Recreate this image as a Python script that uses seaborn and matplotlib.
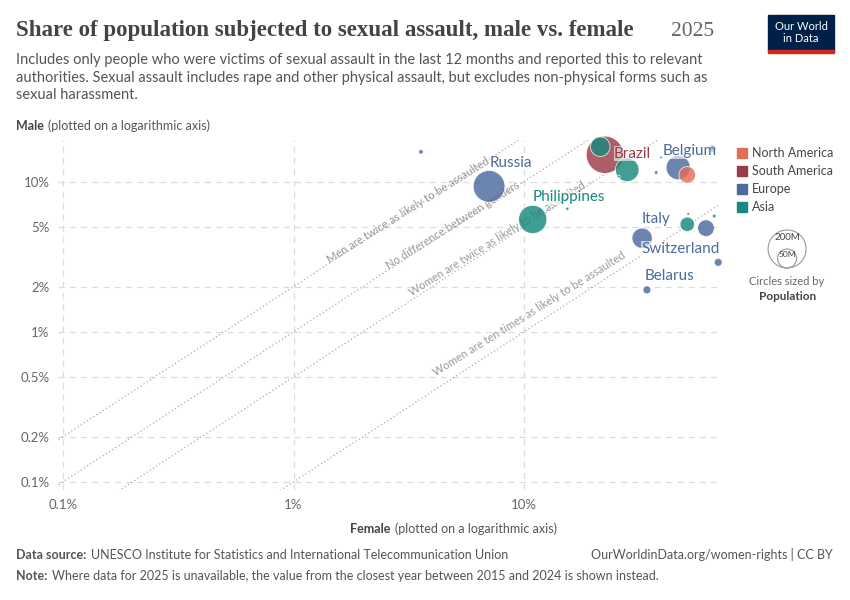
import numpy as np
import pandas as pd
import seaborn as sns
import matplotlib.pyplot as plt

# data (percent of population)
names = ["Small EU 1", "Russia", "Philippines", "Small AS 1", "Brazil", "Asia 1", "Asia 2",
         "Small EU 2", "Small AS 2", "Small EU 3", "Belgium", "North America 1", "Small EU 4",
         "Small SA", "Asia 3", "Small AS 3", "Europe 5", "Italy", "Switzerland", "Belarus"]
region = ["Europe", "Europe", "Asia", "Asia", "South America", "Asia", "Asia",
          "Europe", "Asia", "Europe", "Europe", "North America", "Europe",
          "South America", "Asia", "Asia", "Europe", "Europe", "Europe", "Europe"]
female = [3.57, 7.05, 10.9, 15.4, 22.4, 21.4, 28.0, 25.8, 39.3, 37.4, 46.6, 51.0, 65.6,
          51.5, 51.0, 66.8, 61.5, 32.5, 69.5, 34.1]
male = [15.8, 9.3, 5.6, 6.6, 15.1, 17.1, 12.0, 10.8, 14.5, 11.5, 12.4, 11.1, 16.6,
        6.1, 5.2, 5.9, 4.9, 4.2, 2.9, 1.9]
population = [3, 145, 115, 1.5, 250, 55, 80, 1, 1, 2, 84, 40, 8, 1, 30, 2, 40, 59, 9, 9]
labelled = {"Russia": (16, 14), "Philippines": (26, 13), "Brazil": (20, -2), "Belgium": (8, 9),
            "Italy": (10, 11), "Switzerland": (-27, 7), "Belarus": (16, 7)}

df = pd.DataFrame({"name": names, "region": region, "female": female,
                   "male": male, "population": population})
df = df.sort_values("population", ascending=False)

palette = {"North America": "#E56E5A", "South America": "#9A3B48",
           "Europe": "#4C6A9C", "Asia": "#18897E"}
region_order = ["North America", "South America", "Europe", "Asia"]

sns.set_theme(style="white")
plt.rcParams['font.family'] = ['Lato', 'DejaVu Sans']

fig = plt.figure(figsize=(8.5, 6), dpi=100)
ax = fig.add_axes([0.068, 0.183, 0.779, 0.584])

ax.set_xscale("log")
ax.set_yscale("log")
ax.set_xlim(0.095, 70.7)
ax.set_ylim(0.088, 19.0)

# reference lines
xs = np.array([0.05, 200])
ref = [(2, "Men are twice as likely to be assaulted", 0.655, 0.93),
       (1, "No difference between genders", 0.70, 0.86),
       (0.5, "Women are twice as likely to be assaulted", 0.80, 0.86),
       (0.1, "Women are ten times as likely to be assaulted", 0.86, 0.66)]
for k, txt, tx, ty in ref:
    ax.plot(xs, xs * k, ls=(0, (1, 2)), color="#aaaaaa", lw=0.9, zorder=1)
    ax.text(tx, ty, txt, transform=ax.transAxes, rotation=32, fontsize=8,
            color="#999999", ha="right", va="bottom", rotation_mode="anchor", zorder=2)

sns.scatterplot(data=df, x="female", y="male", hue="region", palette=palette,
                size="population", sizes=(0, 720), size_norm=(0, 200),
                alpha=0.82, edgecolor="white", linewidth=0.6, legend=False,
                ax=ax, zorder=3, clip_on=False)

for _, row in df.iterrows():
    if row["name"] in labelled:
        dx, dy = labelled[row["name"]]
        ax.annotate(row["name"], (row["female"], row["male"]), xytext=(dx, dy),
                    textcoords="offset points", fontsize=11, ha="center",
                    color=palette[row["region"]], zorder=4,
                    bbox=dict(fc="white", ec="none", alpha=0.6, pad=0.3))

ax.set_xticks([0.1, 1, 10])
ax.set_xticklabels(["0.1%", "1%", "10%"])
ax.set_yticks([0.1, 0.2, 0.5, 1, 2, 5, 10])
ax.set_yticklabels(["0.1%", "0.2%", "0.5%", "1%", "2%", "5%", "10%"])
ax.minorticks_off()
ax.tick_params(labelsize=9.5, colors="#666666", length=0, pad=6)
ax.grid(True, ls=(0, (5, 4)), color="#dddddd", lw=0.9)
for s in ax.spines.values():
    s.set_visible(False)
ax.set_xlabel("")
ax.set_ylabel("")

fig.text(0.412, 0.112, "Female", fontsize=9, color="#444444", fontweight="bold")
fig.text(0.465, 0.112, "(plotted on a logarithmic axis)", fontsize=9, color="#555555")
fig.text(0.019, 0.783, "Male", fontsize=9, color="#444444", fontweight="bold")
fig.text(0.057, 0.783, "(plotted on a logarithmic axis)", fontsize=9, color="#555555")

# legend
for i, r in enumerate(region_order):
    y = 0.745 - i * 0.03
    fig.patches.append(plt.Rectangle((0.867, y - 0.009), 0.012, 0.018, transform=fig.transFigure,
                                     color=palette[r], figure=fig))
    fig.text(0.885, y, r, fontsize=9, color="#444444", va="center")
# size legend
cx = 0.926
for r_px in [19, 9.5]:
    circ = plt.Circle((cx * 850, 332 + r_px), r_px, transform=None,
                      fill=False, ec="#999999", lw=0.8)
    fig.patches.append(circ)
fig.text(cx, 0.6, "200M", fontsize=7, color="#444444", ha="center")
fig.text(cx, 0.572, "50M", fontsize=6, color="#444444", ha="center")
fig.text(cx, 0.525, "Circles sized by", fontsize=8, color="#666666", ha="center")
fig.text(cx, 0.5, "Population", fontsize=8.5, color="#444444", ha="center", fontweight="bold")

# header
fig.text(0.019, 0.94, "Share of population subjected to sexual assault, male vs. female",
         fontsize=16.5, color="#444444", family=["Liberation Serif", "DejaVu Serif"],
         fontweight="bold")
fig.text(0.79, 0.94, "2025", fontsize=15.5, color="#666666", family=["Liberation Serif", "DejaVu Serif"])
fig.text(0.019, 0.835, "Includes only people who were victims of sexual assault in the last 12 months and reported this to relevant\n"
         "authorities. Sexual assault includes rape and other physical assault, but excludes non-physical forms such as\n"
         "sexual harassment.", fontsize=10.5, color="#555555", linespacing=1.3)
fig.patches.append(plt.Rectangle((0.904, 0.915), 0.077, 0.06, transform=fig.transFigure,
                                 color="#002147", figure=fig))
fig.patches.append(plt.Rectangle((0.904, 0.912), 0.077, 0.004, transform=fig.transFigure,
                                 color="#CE261E", figure=fig))
fig.text(0.9425, 0.946, "Our World\nin Data", fontsize=8, color="white", ha="center",
         va="center", linespacing=1.1)

# footer
fig.text(0.019, 0.068, "Data source:", fontsize=9, color="#555555", fontweight="bold")
fig.text(0.107, 0.068, "UNESCO Institute for Statistics and International Telecommunication Union",
         fontsize=9, color="#555555")
fig.text(0.98, 0.068, "OurWorldinData.org/women-rights | CC BY", fontsize=9, color="#555555", ha="right")
fig.text(0.019, 0.033, "Note:", fontsize=9, color="#555555", fontweight="bold")
fig.text(0.061, 0.033, "Where data for 2025 is unavailable, the value from the closest year between 2015 and 2024 is shown instead.",
         fontsize=9, color="#555555")

fig.savefig("out.png", dpi=100)
